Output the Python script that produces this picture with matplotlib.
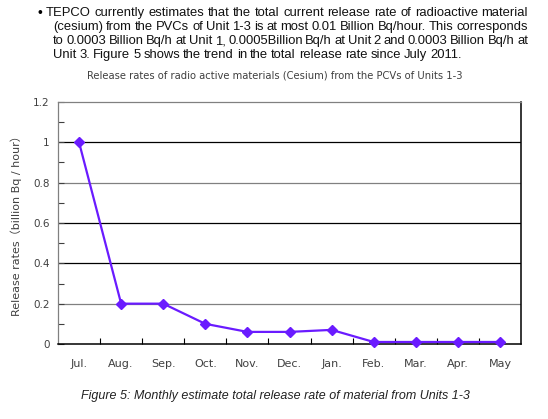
import matplotlib
matplotlib.use("Agg")
import matplotlib.pyplot as plt
from matplotlib.ticker import MultipleLocator, FixedLocator

# ── Data ─────────────────────────────────────────────────────────────────────
months = ["Jul.", "Aug.", "Sep.", "Oct.", "Nov.", "Dec.", "Jan.",
          "Feb.", "Mar.", "Apr.", "May"]
release = [1.0, 0.2, 0.2, 0.1, 0.06, 0.06, 0.07, 0.01, 0.01, 0.01, 0.01]
y_ticks = [0, 0.2, 0.4, 0.6, 0.8, 1, 1.2]
y_labels = ["0", "0.2", "0.4", "0.6", "0.8", "1", "1.2"]
grid_colors = ["#808080", "#000000", "#000000", "#808080", "#000000"]  # 0.2..1.0

paragraph = [
    "TEPCO currently estimates that the total current release rate of radioactive material",
    "(cesium) from the PVCs of Unit 1-3 is at most 0.01 Billion Bq/hour.  This corresponds",
    "to 0.0003 Billion Bq/h at Unit 1, 0.0005Billion Bq/h at Unit 2 and 0.0003 Billion Bq/h at",
    "Unit 3.  Figure 5 shows the trend in the total release rate since July 2011.",
]
chart_title = "Release rates of radio active materials (Cesium) from the PCVs of Units 1-3"
caption = "Figure 5: Monthly estimate total release rate of material from Units 1-3"

LINE_COLOR = "#6a1bff"
W, H = 548, 419

fig = plt.figure(figsize=(W / 100, H / 100), dpi=100, facecolor="white")
ax = fig.add_axes([58 / W, 1 - 344 / H, (521 - 58) / W, (344 - 102) / H])

x = list(range(len(months)))
ax.plot(x, release, color=LINE_COLOR, linewidth=1.6, marker="D",
        markersize=5.5, markerfacecolor=LINE_COLOR, markeredgecolor=LINE_COLOR,
        zorder=3, clip_on=False)

ax.set_xlim(-0.5, len(months) - 0.5)
ax.set_ylim(0, 1.2)

for yv, c in zip(y_ticks[1:-1], grid_colors):
    ax.axhline(yv, color=c, linewidth=0.9, zorder=1)

ax.set_yticks(y_ticks)
ax.set_yticklabels(y_labels)
ax.yaxis.set_minor_locator(MultipleLocator(0.1))
ax.tick_params(axis="y", which="both", direction="in", length=4, width=0.8,
               labelsize=7.5, colors="#404040", pad=6)

ax.set_xticks(x)
ax.set_xticklabels(months)
ax.tick_params(axis="x", which="major", length=0, labelsize=8, colors="#404040", pad=11)
ax.xaxis.set_minor_locator(FixedLocator([i + 0.5 for i in range(len(months) - 1)]))
ax.tick_params(axis="x", which="minor", direction="in", length=4, width=0.8)

for side in ["left", "top"]:
    ax.spines[side].set_color("#808080")
    ax.spines[side].set_linewidth(0.9)
for side in ["right", "bottom"]:
    ax.spines[side].set_color("#000000")
    ax.spines[side].set_linewidth(1.1)

ax.set_ylabel("Release rates（billion Bq / hour）", fontsize=8, color="#404040",
              family=["DejaVu Sans", "Noto Sans CJK JP"], labelpad=8)

fig.text(275 / W, 1 - 75 / H, chart_title, ha="center", va="center",
         fontsize=7.2, color="#404040")
fig.text(275 / W, 1 - 396 / H, caption, ha="center", va="center",
         fontsize=9.0, style="italic", family="Liberation Sans", color="#222222")

# ── Justified paragraph ──────────────────────────────────────────────────────
renderer = fig.canvas.get_renderer()
fig.text(37 / W, 1 - 13 / H, "\u2022", ha="left", va="center", fontsize=10,
         family="Liberation Sans")
line_y = [13, 27, 41, 55]
for i, line in enumerate(paragraph):
    x0 = 46 if i == 0 else 53
    x1 = 528
    words = [w for w in line.split(" ") if w != ""]
    texts = []
    widths = []
    for w in words:
        t = fig.text(0, 1 - line_y[i] / H, w, ha="left", va="center", fontsize=9.4,
                     family="Liberation Sans", color="#111111")
        bb = t.get_window_extent(renderer)
        texts.append(t)
        widths.append(bb.width)
    if i < len(paragraph) - 1:
        gap = (x1 - x0 - sum(widths)) / (len(words) - 1)
    else:
        gap = 3.0
    pos = x0
    for t, wd in zip(texts, widths):
        t.set_x(pos / W)
        pos += wd + gap

fig.savefig("out.png", dpi=100, facecolor="white")
